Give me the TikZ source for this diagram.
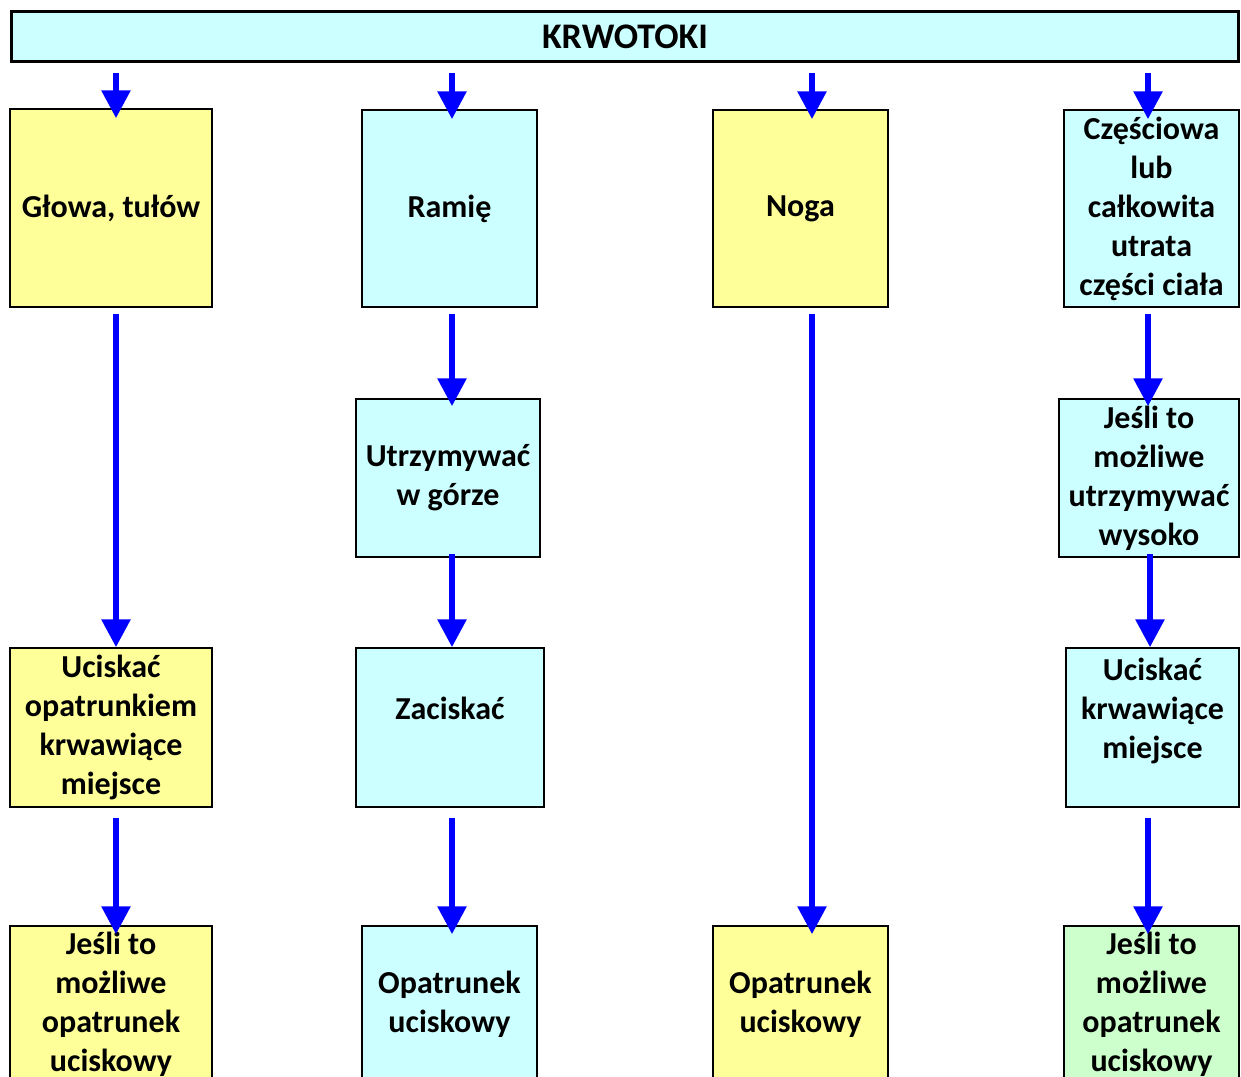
\documentclass[tikz,border=0pt]{standalone}
\usepackage{fontspec}
\setmainfont{Carlito}
\usetikzlibrary{arrows.meta,calc}
\definecolor{yel}{HTML}{FFFF99}
\definecolor{cya}{HTML}{CCFFFF}
\definecolor{grn}{HTML}{CCFFCC}
\definecolor{arrblue}{HTML}{0000FF}
\begin{document}
\begin{tikzpicture}[x=1pt,y=-1pt,
  box/.style={draw=black,line width=1.5pt,inner sep=0pt,align=center,
    font=\bfseries\fontsize{32}{39}\selectfont},
  arr/.style={draw=arrblue,line width=6pt,-{Triangle[width=28pt,length=28pt]}}]
\useasboundingbox (0,0) rectangle (1241,1076);
\node[draw=black,line width=3pt,fill=cya,minimum width=1227pt,minimum height=50pt,
  font=\bfseries\fontsize{36}{39}\selectfont] (hdr) at (625,36.5) {KRWOTOKI};
\coordinate (c1) at (116,0);
\coordinate (c2) at (452,0);
\coordinate (c3) at (812,0);
\coordinate (c4) at (1148,0);
\coordinate (c4b) at (1150,0);
% row 1
\node[box,fill=yel,minimum width=202pt,minimum height=198pt] (a1) at (111,208) {Głowa, tułów};
\node[box,fill=cya,minimum width=175pt,minimum height=197pt] (a2) at (449.5,208.5) {Ramię};
\node[box,fill=yel,minimum width=175pt,minimum height=197pt] (a3) at (800.5,208.5) {Noga};
\node[box,fill=cya,minimum width=175pt,minimum height=197pt] (a4) at (1151.5,208.5) {Częściowa\\lub\\całkowita\\utrata\\części ciała};
% row 2
\node[box,fill=cya,minimum width=184pt,minimum height=158pt] (b2) at (448,478) {Utrzymywać\\w górze};
\node[box,fill=cya,minimum width=180pt,minimum height=158pt] (b4) at (1149,478) {Jeśli to\\możliwe\\utrzymywać\\wysoko};
% row 3
\node[box,fill=yel,minimum width=202pt,minimum height=159pt] (d1) at (111,727.5) {Uciskać\\opatrunkiem\\krwawiące\\miejsce};
\node[box,fill=cya,minimum width=188pt,minimum height=159pt] (d2) at (450,727.5) {Zaciskać\\ ~};
\node[box,fill=cya,minimum width=173pt,minimum height=159pt] (d4) at (1152.5,727.5) {Uciskać\\krwawiące\\miejsce\\ ~};
% row 4
\node[box,fill=yel,minimum width=202pt,minimum height=156pt] (e1) at (111,1004) {Jeśli to\\możliwe\\opatrunek\\uciskowy};
\node[box,fill=cya,minimum width=175pt,minimum height=156pt] (e2) at (449.5,1004) {Opatrunek\\uciskowy};
\node[box,fill=yel,minimum width=175pt,minimum height=156pt] (e3) at (800.5,1004) {Opatrunek\\uciskowy};
\node[box,fill=grn,minimum width=175pt,minimum height=156pt] (e4) at (1151.5,1004) {Jeśli to\\możliwe\\opatrunek\\uciskowy};
% arrows header -> row 1
\draw[arr] ($(hdr.south -| c1)+(0,10)$) -- ($(a1.north -| c1)+(0,10)$);
\draw[arr] ($(hdr.south -| c2)+(0,10)$) -- ($(a2.north -| c2)+(0,10)$);
\draw[arr] ($(hdr.south -| c3)+(0,10)$) -- ($(a3.north -| c3)+(0,10)$);
\draw[arr] ($(hdr.south -| c4)+(0,10)$) -- ($(a4.north -| c4)+(0,10)$);
% row 1 -> next
\draw[arr] ($(a1.south -| c1)+(0,6)$) -- (d1.north -| c1);
\draw[arr] ($(a2.south -| c2)+(0,6)$) -- ($(b2.north -| c2)+(0,8)$);
\draw[arr] ($(a3.south -| c3)+(0,6)$) -- ($(e3.north -| c3)+(0,9)$);
\draw[arr] ($(a4.south -| c4)+(0,6)$) -- ($(b4.north -| c4)+(0,8)$);
% row 2 -> row 3
\draw[arr] ($(b2.south -| c2)+(0,-4)$) -- (d2.north -| c2);
\draw[arr] ($(b4.south -| c4b)+(0,-4)$) -- (d4.north -| c4b);
% row 3 -> row 4
\draw[arr] ($(d1.south -| c1)+(0,10)$) -- ($(e1.north -| c1)+(0,9)$);
\draw[arr] ($(d2.south -| c2)+(0,10)$) -- ($(e2.north -| c2)+(0,9)$);
\draw[arr] ($(d4.south -| c4)+(0,10)$) -- ($(e4.north -| c4)+(0,9)$);
\end{tikzpicture}
\end{document}
